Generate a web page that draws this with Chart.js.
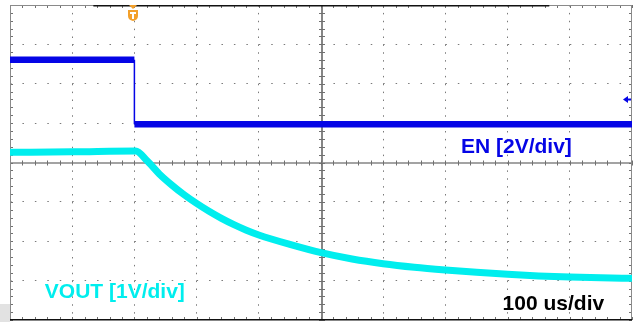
<!DOCTYPE html>
<html>
<head>
<meta charset="utf-8">
<script src="https://cdn.jsdelivr.net/npm/chart.js@4.4.1/dist/chart.umd.min.js"></script>
<style>
  html, body { margin: 0; padding: 0; background: #fff; }
  canvas { display: block; }
</style>
</head>
<body>
<canvas id="scope" width="634" height="322"></canvas>
<script>
// Horizontal: time in microseconds (100 us per division, 10 divisions)
const timeRangeUs = [-500, 500];
// Vertical: screen divisions (8 divisions, centre line = 0)
const levelRangeDiv = [-4, 4];

// EN channel (2 V/div), in screen divisions
const enTimeUs   = [-500, -300, -300, 500];
const enLevelDiv = [2.61, 2.61, 0.97, 0.97];

// VOUT channel (1 V/div), in screen divisions
const voutTimeUs = [-500, -400, -298, -280, -260, -240, -220, -200, -180, -160, -140, -120, -100,
                    -50, 0, 50, 100, 150, 200, 250, 300, 350, 400, 450, 500];
const voutLevelDiv = [0.26, 0.27, 0.29, 0.05, -0.29, -0.57, -0.82, -1.04, -1.24, -1.42, -1.58, -1.72, -1.84,
                      -2.08, -2.29, -2.45, -2.57, -2.66, -2.73, -2.79, -2.84, -2.88, -2.91, -2.93, -2.94];

// Trigger position and level
const triggerTimeUs = -300;
const triggerLevelDiv = 1.6;

// On-screen annotations
const enLabel = 'EN [2V/div]';
const voutLabel = 'VOUT [1V/div]';
const timebaseLabel = '100 us/div';

const EN_BLUE = '#0505e6';
const VOUT_CYAN = '#00eeee';

const toXY = (xs, ys) => xs.map((x, i) => ({ x, y: ys[i] }));

// Graticule, frame, trigger markers and channel captions
const scopeDecor = {
  id: 'scopeDecor',
  beforeDraw(chart) {
    const { ctx, width, height } = chart;
    ctx.save();
    ctx.fillStyle = '#ffffff';
    ctx.fillRect(0, 0, width, height);
    ctx.fillStyle = '#e2e2e2';
    ctx.fillRect(0, 304, 10, height - 304);
    ctx.restore();
  },
  beforeDatasetsDraw(chart) {
    const { ctx, chartArea: a, scales: { x, y } } = chart;
    const cx = x.getPixelForValue(0);
    const cy = y.getPixelForValue(0);
    const snap = v => Math.round(v) + 0.5;
    ctx.save();

    // centre cross
    ctx.strokeStyle = '#858585';
    ctx.lineWidth = 2;
    ctx.beginPath();
    ctx.moveTo(Math.round(cx) + 1, a.top); ctx.lineTo(Math.round(cx) + 1, a.bottom);
    ctx.stroke();
    ctx.lineWidth = 1.5;
    ctx.beginPath();
    ctx.moveTo(a.left, cy + 0.5); ctx.lineTo(a.right, cy + 0.5);
    ctx.stroke();

    // minor ticks on the centre cross and on the frame
    ctx.lineWidth = 1;
    ctx.strokeStyle = '#707070';
    ctx.beginPath();
    for (let t = timeRangeUs[0]; t <= timeRangeUs[1]; t += 20) {
      const px = snap(x.getPixelForValue(t));
      ctx.moveTo(px, cy - 2); ctx.lineTo(px, cy + 3);
      ctx.moveTo(px, a.top); ctx.lineTo(px, a.top + 3);
      ctx.moveTo(px, a.bottom - 3); ctx.lineTo(px, a.bottom);
    }
    for (let k = 0; k <= 40; k++) {
      const v = levelRangeDiv[0] + k * 0.2;
      const py = snap(y.getPixelForValue(v));
      ctx.moveTo(cx - 2, py); ctx.lineTo(cx + 4, py);
      ctx.moveTo(a.left, py); ctx.lineTo(a.left + 3, py);
      ctx.moveTo(a.right - 3, py); ctx.lineTo(a.right, py);
    }
    ctx.stroke();

    // frame
    ctx.strokeStyle = '#8a8a8a';
    ctx.lineWidth = 1;
    ctx.beginPath();
    ctx.moveTo(snap(a.left), a.top); ctx.lineTo(snap(a.left), a.bottom);
    ctx.moveTo(snap(a.right) - 1, a.top); ctx.lineTo(snap(a.right) - 1, a.bottom);
    ctx.moveTo(a.left, a.top + 0.5); ctx.lineTo(a.right, a.top + 0.5);
    ctx.stroke();
    ctx.strokeStyle = '#111111';
    ctx.lineWidth = 1.5;
    ctx.beginPath();
    ctx.moveTo(a.left, a.bottom - 0.25); ctx.lineTo(a.right, a.bottom - 0.25);
    ctx.moveTo(x.getPixelForValue(-366), a.top + 0.75); ctx.lineTo(x.getPixelForValue(367), a.top + 0.75);
    ctx.stroke();
    ctx.restore();
  },
  afterDatasetsDraw(chart) {
    const { ctx, chartArea: a, scales: { x, y } } = chart;
    ctx.save();

    // trigger position marker
    const tx = Math.round(x.getPixelForValue(triggerTimeUs)) - 1;
    ctx.fillStyle = '#f3a02a';
    ctx.beginPath();
    ctx.moveTo(tx - 4, a.top); ctx.lineTo(tx + 4, a.top); ctx.lineTo(tx, a.top + 4);
    ctx.closePath(); ctx.fill();
    ctx.beginPath();
    ctx.moveTo(tx - 5, a.top + 5); ctx.lineTo(tx + 5, a.top + 5);
    ctx.lineTo(tx + 5, a.top + 11);
    ctx.quadraticCurveTo(tx + 5, a.top + 15, tx, a.top + 16);
    ctx.quadraticCurveTo(tx - 5, a.top + 15, tx - 5, a.top + 11);
    ctx.closePath(); ctx.fill();
    ctx.fillStyle = '#ffffff';
    ctx.fillRect(tx - 3, a.top + 7, 6, 2);
    ctx.fillRect(tx - 1, a.top + 7, 2, 7);

    // trigger level marker
    const ly = y.getPixelForValue(triggerLevelDiv);
    ctx.fillStyle = EN_BLUE;
    ctx.beginPath();
    ctx.moveTo(a.right - 9, ly); ctx.lineTo(a.right - 4, ly - 3.5); ctx.lineTo(a.right - 4, ly + 3.5);
    ctx.closePath(); ctx.fill();
    ctx.fillRect(a.right - 5, ly - 1, 4, 2);

    // channel captions and time base
    ctx.font = 'bold 21px "Liberation Sans", Arial, sans-serif';
    ctx.textBaseline = 'alphabetic';
    ctx.textAlign = 'left';
    ctx.fillStyle = EN_BLUE;
    ctx.fillText(enLabel, x.getPixelForValue(225), y.getPixelForValue(0.24));
    ctx.fillStyle = VOUT_CYAN;
    ctx.fillText(voutLabel, x.getPixelForValue(-444), y.getPixelForValue(-3.44));
    ctx.fillStyle = '#000000';
    ctx.fillText(timebaseLabel, x.getPixelForValue(292), y.getPixelForValue(-3.75));
    ctx.restore();
  }
};

new Chart(document.getElementById('scope'), {
  type: 'line',
  data: {
    datasets: [
      {
        label: 'VOUT',
        data: toXY(voutTimeUs, voutLevelDiv),
        borderColor: VOUT_CYAN,
        borderWidth: 7,
        pointRadius: 0,
        cubicInterpolationMode: 'monotone',
        borderCapStyle: 'butt',
        borderJoinStyle: 'round'
      },
      {
        label: 'EN',
        data: toXY(enTimeUs, enLevelDiv),
        borderColor: EN_BLUE,
        borderWidth: 6.5,
        pointRadius: 0,
        tension: 0,
        borderCapStyle: 'butt',
        segment: {
          // the falling edge is a thin vertical stroke
          borderWidth: ctx => (ctx.p0.parsed.x === ctx.p1.parsed.x ? 1.5 : 6.5)
        }
      }
    ]
  },
  options: {
    responsive: false,
    animation: false,
    devicePixelRatio: 1,
    layout: { padding: { left: 10, top: 5, right: 2, bottom: 2 } },
    plugins: { legend: { display: false }, tooltip: { enabled: false } },
    scales: {
      x: {
        type: 'linear',
        min: timeRangeUs[0],
        max: timeRangeUs[1],
        ticks: { display: false, stepSize: 100 },
        grid: {
          drawTicks: false,
          lineWidth: 1,
          color: c => (c.tick && (c.tick.value === 0 || Math.abs(c.tick.value) === 500) ? 'rgba(0,0,0,0)' : '#7a7a7a')
        },
        border: { display: false, dash: [1.5, 6.375] }
      },
      y: {
        type: 'linear',
        min: levelRangeDiv[0],
        max: levelRangeDiv[1],
        ticks: { display: false, stepSize: 1 },
        grid: {
          drawTicks: false,
          lineWidth: 1,
          color: c => (c.tick && (c.tick.value === 0 || Math.abs(c.tick.value) === 4) ? 'rgba(0,0,0,0)' : '#7a7a7a')
        },
        border: { display: false, dash: [1.5, 10.94] }
      }
    }
  },
  plugins: [scopeDecor]
});
</script>
</body>
</html>
